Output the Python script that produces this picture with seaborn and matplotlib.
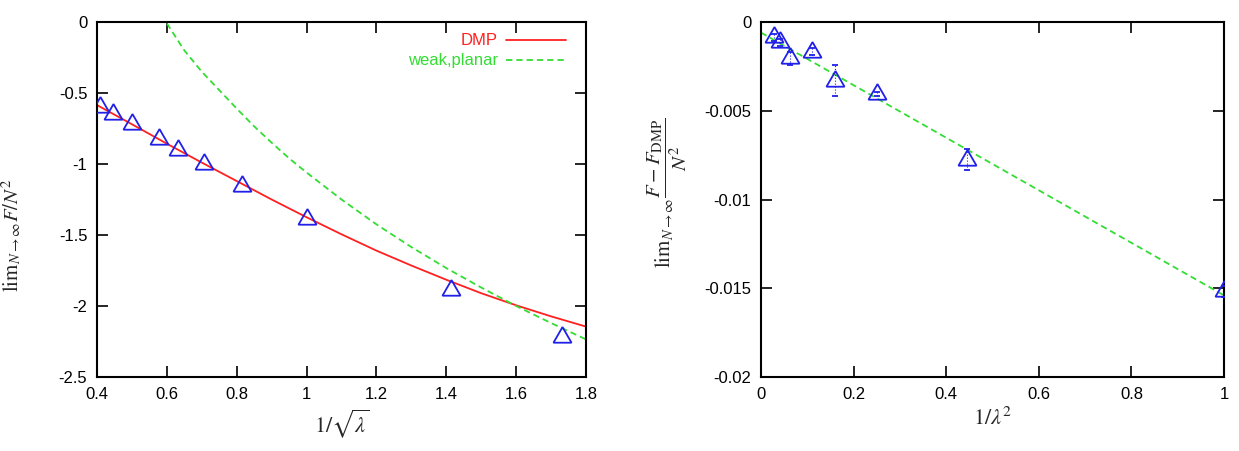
import numpy as np
import pandas as pd
import seaborn as sns
import matplotlib.pyplot as plt

# ---- data ----
# left panel: x = 1/sqrt(lambda)
lam_x = [0.408, 0.447, 0.500, 0.577, 0.632, 0.707, 0.816, 1.000, 1.414, 1.732]
lam_F = [-0.596, -0.648, -0.720, -0.826, -0.900, -1.002, -1.153, -1.390, -1.887, -2.216]

dmp_x = [0.40, 0.50, 0.60, 0.70, 0.80, 0.90, 1.00, 1.10, 1.20, 1.30, 1.40, 1.50, 1.60, 1.70, 1.80]
dmp_F = [-0.585, -0.720, -0.857, -0.990, -1.120, -1.250, -1.375, -1.495, -1.610,
         -1.715, -1.815, -1.910, -1.995, -2.073, -2.145]

weak_x = [0.60, 0.65, 0.70, 0.75, 0.80, 0.85, 0.90, 0.95, 1.00, 1.10, 1.20, 1.30,
          1.40, 1.50, 1.60, 1.70, 1.80]
weak_F = [-0.01, -0.20, -0.35, -0.48, -0.61, -0.735, -0.85, -0.96, -1.06, -1.25,
          -1.425, -1.585, -1.733, -1.87, -2.00, -2.12, -2.235]

# right panel: x = 1/lambda^2
inv_x = [0.028, 0.040, 0.0625, 0.111, 0.160, 0.250, 0.444, 1.000]
diff_F = [-0.00086, -0.00114, -0.00204, -0.00167, -0.00331, -0.00406, -0.00775, -0.01517]
diff_err = [0.0002, 0.0002, 0.00037, 0.0002, 0.00088, 0.0001, 0.0006, 0.0003]

fit_x = [0.0, 1.0]
fit_F = [-0.0006, -0.0154]

left_xticks = [0.4, 0.6, 0.8, 1.0, 1.2, 1.4, 1.6, 1.8]
left_xlabels = ['0.4', '0.6', '0.8', '1', '1.2', '1.4', '1.6', '1.8']
left_yticks = [-2.5, -2, -1.5, -1, -0.5, 0]
left_ylabels = ['-2.5', '-2', '-1.5', '-1', '-0.5', '0']
right_xticks = [0, 0.2, 0.4, 0.6, 0.8, 1.0]
right_xlabels = ['0', '0.2', '0.4', '0.6', '0.8', '1']
right_yticks = [-0.02, -0.015, -0.01, -0.005, 0]
right_ylabels = ['-0.02', '-0.015', '-0.01', '-0.005', '0']

RED = '#ff2020'
GREEN = '#33dd33'
BLUE = '#2020e8'

sns.set_theme(style='ticks')
plt.rcParams['font.family'] = ['Liberation Sans', 'DejaVu Sans']
plt.rcParams['mathtext.fontset'] = 'stix'

fig = plt.figure(figsize=(12.39, 4.51), dpi=100)
ax1 = fig.add_axes([97 / 1239, 74 / 451, 489 / 1239, 355 / 451])
ax2 = fig.add_axes([761 / 1239, 74 / 451, 463 / 1239, 355 / 451])

tri = dict(ls='none', marker=(3, 0, 0), ms=15, mfc='none', mec=BLUE, mew=1.3, zorder=5)

# left panel
sns.lineplot(x=dmp_x, y=dmp_F, ax=ax1, color=RED, lw=1.3, label='DMP',
             estimator=None, sort=False)
sns.lineplot(x=weak_x, y=weak_F, ax=ax1, color=GREEN, lw=1.3, label='weak,planar',
             estimator=None, sort=False, dashes=False, linestyle=(0, (3.5, 2.2)))
ax1.plot(lam_x, lam_F, **tri)

ax1.set_xlim(0.4, 1.8)
ax1.set_ylim(-2.5, 0)
ax1.set_xticks(left_xticks, labels=left_xlabels)
ax1.set_yticks(left_yticks, labels=left_ylabels)
ax1.set_xlabel(r'$1/\sqrt{\lambda}$', fontsize=16, labelpad=4)
ax1.set_ylabel(r'$\mathrm{lim}_{N\to\infty}F/N^2$', fontsize=15)
ax1.yaxis.set_label_coords(-0.15, 0.40)

leg = ax1.legend(loc='upper right', markerfirst=False, frameon=False,
                 labelcolor='linecolor', handlelength=3.6, handletextpad=0.5,
                 fontsize=12, labelspacing=0.3, bbox_to_anchor=(0.99, 1.01))

# right panel
sns.lineplot(x=fit_x, y=fit_F, ax=ax2, color=GREEN, lw=1.3, estimator=None,
             linestyle=(0, (3.5, 2.2)))
eb = ax2.errorbar(inv_x, diff_F, yerr=diff_err, ecolor=BLUE, elinewidth=0.8,
                  capsize=2.5, capthick=0.8, **tri)
eb[2][0].set_linestyle(':')

ax2.set_xlim(0, 1)
ax2.set_ylim(-0.02, 0)
ax2.set_xticks(right_xticks, labels=right_xlabels)
ax2.set_yticks(right_yticks, labels=right_ylabels)
ax2.set_xlabel(r'$1/\lambda^2$', fontsize=16, labelpad=4)
ax2.set_ylabel(r'$\mathrm{lim}_{N\to\infty}\dfrac{F-F_{\mathrm{DMP}}}{N^2}$',
               fontsize=15)
ax2.yaxis.set_label_coords(-0.155, 0.52)

for ax in (ax1, ax2):
    for s in ax.spines.values():
        s.set_color('black')
        s.set_linewidth(1.5)
    ax.tick_params(direction='in', length=8, width=1.2, top=True, right=True,
                   labelsize=12, colors='black', pad=7)

fig.savefig('out.png', dpi=100)
